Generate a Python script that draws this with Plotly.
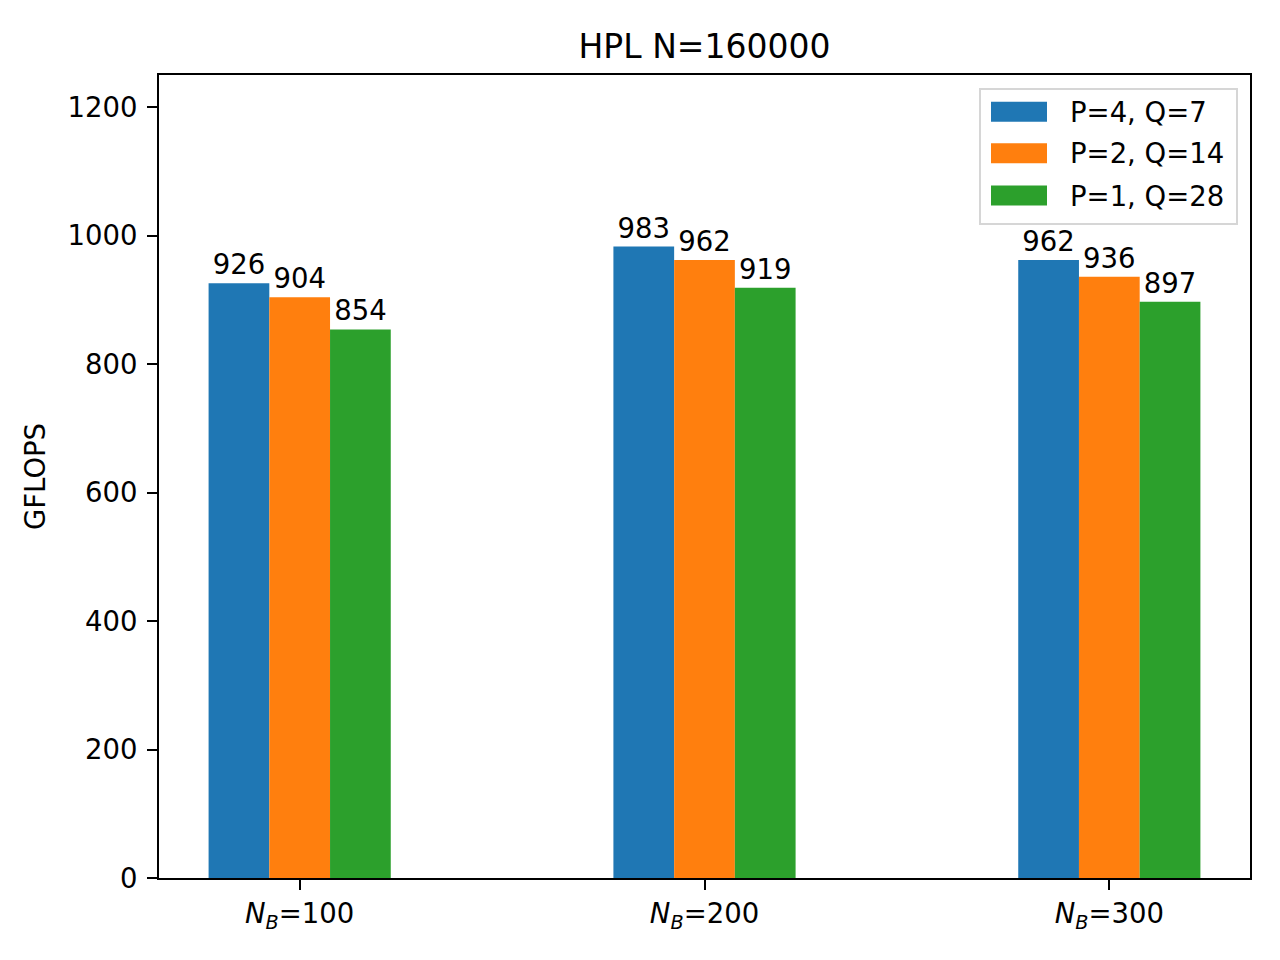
import plotly.graph_objects as go

categories = ["<i>N</i><sub><i>B</i></sub>=100", "<i>N</i><sub><i>B</i></sub>=200", "<i>N</i><sub><i>B</i></sub>=300"]
series_names = ["P=4, Q=7", "P=2, Q=14", "P=1, Q=28"]
series_values = [
    [926, 983, 962],
    [904, 962, 936],
    [854, 919, 897],
]
colors = ["#1f77b4", "#ff7f0e", "#2ca02c"]
y_ticks = [0, 200, 400, 600, 800, 1000, 1200]

FONT = "DejaVu Sans"
FS = 27.5
W, H = 1280, 960
OFF = 8  # page body margin
L, R, T, B = 159, 1250, 75, 878

fig = go.Figure()
for name, vals, col in zip(series_names, series_values, colors):
    fig.add_trace(go.Bar(
        x=categories, y=vals, name=name, marker=dict(color=col, line=dict(width=0)),
        text=[str(v) for v in vals], textposition="outside", constraintext="none",
        textfont=dict(family=FONT, size=FS, color="black"), cliponaxis=False,
        showlegend=False,
    ))

def px_x(p):
    return (p - L) / (R - L)

def px_y(p):
    return (B - p) / (B - T)

shapes = []
annotations = []
# legend box
shapes.append(dict(type="rect", xref="paper", yref="paper",
                   x0=px_x(980), x1=px_x(1237), y0=px_y(224), y1=px_y(89),
                   line=dict(color="#d6d6d6", width=2), fillcolor="rgba(255,255,255,0.8)", layer="above"))
rows = [(101.7, 121.7, 111.7), (143.3, 163.3, 153.5), (185.5, 205.5, 195.5)]
for (y0, y1, yc), name, col in zip(rows, series_names, colors):
    shapes.append(dict(type="rect", xref="paper", yref="paper",
                       x0=px_x(991), x1=px_x(1047), y0=px_y(y1), y1=px_y(y0),
                       line=dict(width=0), fillcolor=col, layer="above"))
    annotations.append(dict(xref="paper", yref="paper", x=px_x(1068), y=px_y(yc),
                            xanchor="left", yanchor="middle", showarrow=False, text=name,
                            font=dict(family=FONT, size=FS, color="black")))

fig.update_layout(
    width=W, height=H,
    margin=dict(l=L - OFF, r=W - R + OFF, t=T - OFF, b=H - B + OFF, autoexpand=False),
    paper_bgcolor="white", plot_bgcolor="white",
    font=dict(family=FONT, size=FS, color="black"),
    barmode="group", bargap=0.55, bargroupgap=0,
    title=dict(text="HPL N=160000", x=((L + R) / 2 - OFF) / W, xanchor="center",
               y=1 - (46 - OFF) / H, yanchor="middle", yref="container",
               font=dict(family=FONT, size=33, color="black")),
    shapes=shapes, annotations=annotations,
)
fig.update_xaxes(range=[-0.3475, 2.3475], showline=True, linecolor="black", linewidth=2,
                 mirror=True, ticks="outside", ticklen=10, tickwidth=2, tickcolor="black",
                 showgrid=False, zeroline=False, tickfont=dict(family=FONT, size=FS))
fig.update_yaxes(range=[0, 1250], tickvals=y_ticks, showline=True, linecolor="black", linewidth=2,
                 mirror=True, ticks="outside", ticklen=10, tickwidth=2, tickcolor="black",
                 showgrid=False, zeroline=False, tickfont=dict(family=FONT, size=FS),
                 ticklabelstandoff=4,
                 title=dict(text="GFLOPS", font=dict(family=FONT, size=FS), standoff=14),
                 automargin=False)

fig.write_html("out.html")
